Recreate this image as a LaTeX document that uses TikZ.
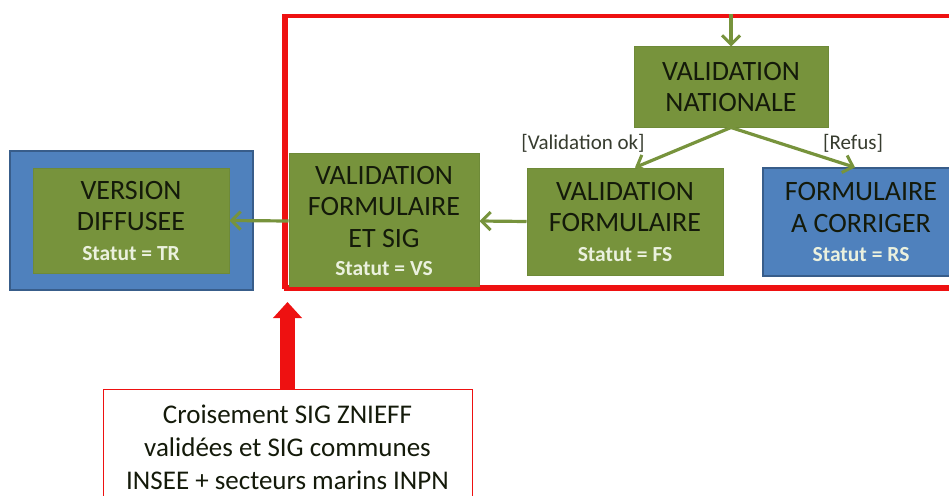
\documentclass[tikz,border=0pt]{standalone}
\usepackage{fontspec}
\setmainfont{Carlito}
\usetikzlibrary{arrows.meta,calc}
\definecolor{olive}{HTML}{77933C}
\definecolor{oliveb}{HTML}{6E8A38}
\definecolor{offblue}{HTML}{4F81BD}
\definecolor{offblueb}{HTML}{385D8A}
\definecolor{statcol}{HTML}{EBF1DE}
\definecolor{txtdark}{HTML}{141A0A}
\definecolor{redc}{HTML}{EE1111}
\tikzset{
  gbox/.style={draw=oliveb, line width=1pt, fill=olive, text=txtdark, align=center, inner sep=0pt,
    font=\fontsize{28}{31.5}\selectfont},
  bbox/.style={draw=offblueb, line width=1.2pt, fill=offblue, text=txtdark, align=center, inner sep=0pt,
    font=\fontsize{28}{31.5}\selectfont},
  garrow/.style={draw=olive, line width=3.2pt, -{Straight Barb[length=9pt,width=18pt,line width=3pt]}},
  lbl/.style={text=txtdark!85, font=\fontsize{21}{24}\selectfont, inner sep=0pt},
}
\newcommand{\stat}[1]{{\fontsize{21.5}{24}\selectfont\bfseries\color{statcol}#1}}
\begin{document}
\begin{tikzpicture}[x=1pt,y=-1pt]
\useasboundingbox (0,0) rectangle (949,495);
\clip (0,0) rectangle (949,495);
\fill[white] (0,0) rectangle (949,495);
% red frame
\node[draw=redc, line width=4pt, minimum width=724pt, minimum height=271pt, inner sep=0pt] (frame) at (648,151.5) {};
% left blue container
\node[bbox, minimum width=243pt, minimum height=139pt] (diff) at (131.5,220.5) {};
\node[gbox, minimum width=196pt, minimum height=105pt] (vd) at (131,220.5) {VERSION\\DIFFUSEE\\[-2pt]\stat{Statut = TR}};
% boxes inside frame
\node[gbox, minimum width=194pt, minimum height=80pt] (vn) at (731,87) {VALIDATION\\NATIONALE};
\node[gbox, minimum width=196pt, minimum height=107pt] (vf) at (625,221.5) {VALIDATION\\FORMULAIRE\\[-2pt]\stat{Statut = FS}};
\node[bbox, minimum width=196pt, minimum height=108pt] (fac) at (861,222) {FORMULAIRE\\A CORRIGER\\[-2pt]\stat{Statut = RS}};
\node[gbox, minimum width=190pt, minimum height=136pt] (vfs) at (384,221) {VALIDATION\\FORMULAIRE\\ET SIG\\[-3pt]\stat{Statut = VS}};
% redraw frame border on top of VFS box
\draw[redc, line width=4pt] (frame.south west) -- (frame.south east);
\draw[redc, line width=4pt] (frame.south west) -- (frame.north west);
% labels
\node[lbl] (lok) at (583,143) {[Validation ok]};
\node[lbl] (lref) at (853,143) {[Refus]};
% green arrows
\draw[garrow] (vn.north |- frame.north) -- (vn.north);
\draw[garrow] (vn.south) -- ([xshift=10pt]vf.north);
\draw[garrow] (vn.south) -- ([xshift=-6pt]fac.north);
\draw[garrow] (vf.west) -- (vfs.east);
\draw[garrow] (vfs.west) -- (vd.east);
% bottom box
\node[draw=redc, line width=1pt, fill=white, minimum width=369pt, minimum height=116pt, align=center, inner sep=0pt,
  text=txtdark, font=\fontsize{27}{33}\selectfont] (cb) at (287.5,447) {Croisement SIG ZNIEFF\\validées et SIG communes\\INSEE + secteurs marins INPN};
% red arrow
\draw[draw=redc, line width=15pt, shorten >=13pt, -{Triangle[length=16pt,width=28pt]}] (cb.north) -- (cb.north |- frame.south);
\end{tikzpicture}
\end{document}
